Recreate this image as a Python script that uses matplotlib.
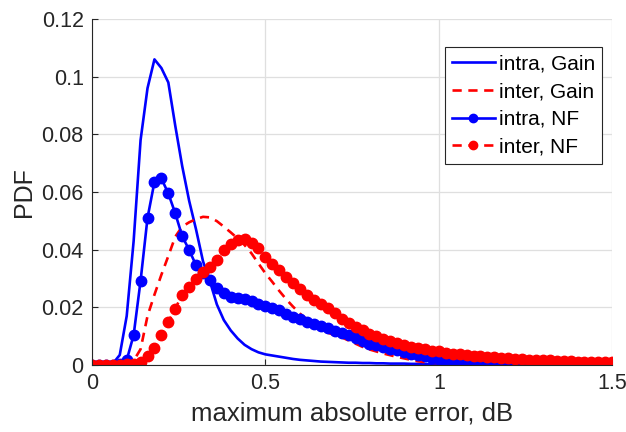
import numpy as np
import matplotlib.pyplot as plt

# error bins (dB), 0 to 1.5 step 0.02
x = np.round(np.arange(0, 1.5001, 0.02), 2)

intra_gain = [0, 0, 0, 0.0005, 0.0035, 0.017, 0.043, 0.078, 0.096, 0.106,
              0.103, 0.098, 0.083, 0.069, 0.057, 0.047, 0.036, 0.029, 0.021, 0.0156,
              0.012, 0.0092, 0.007, 0.0055, 0.0044, 0.0037, 0.0033, 0.0029, 0.0025, 0.0021,
              0.0018, 0.0016, 0.0014, 0.0012, 0.0011, 0.0010, 0.0009, 0.0008, 0.0008, 0.0007,
              0.0007, 0.0006, 0.0006, 0.0005, 0.0005, 0.0005, 0.0004, 0.0004, 0.0004, 0.0003,
              0.0003, 0.0003, 0.0003, 0.0003, 0.0003, 0.0003, 0.0002, 0.0002, 0.0002, 0.0002,
              0.0002, 0.0002, 0.0002, 0.0002, 0.0002, 0.0002, 0.0001, 0.0001, 0.0001, 0.0001,
              0.0001, 0.0001, 0.0001, 0.0001, 0.0001, 0.0001]

inter_gain = [0, 0, 0, 0, 0.0001, 0.0005, 0.0015, 0.0055, 0.017, 0.0244,
              0.0313, 0.0378, 0.0445, 0.048, 0.0495, 0.0506, 0.0514, 0.0512, 0.0499, 0.048,
              0.046, 0.0439, 0.0416, 0.0387, 0.0352, 0.0318, 0.0288, 0.0257, 0.0228, 0.0202,
              0.0178, 0.0158, 0.014, 0.0125, 0.0112, 0.0104, 0.0096, 0.0085, 0.0074, 0.0063,
              0.0054, 0.0047, 0.004, 0.0034, 0.0028, 0.0023, 0.0018, 0.0013, 0.001, 0.0008,
              0.0007, 0.0006, 0.0006, 0.0005, 0.0005, 0.0004, 0.0004, 0.0004, 0.0003, 0.0003,
              0.0003, 0.0003, 0.0002, 0.0002, 0.0002, 0.0002, 0.0002, 0.0002, 0.0001, 0.0001,
              0.0001, 0.0001, 0.0001, 0.0001, 0.0001, 0.0001]

intra_nf = [0, 0, 0, 0, 0.0003, 0.0017, 0.0104, 0.0292, 0.051, 0.0635,
            0.0647, 0.0595, 0.0526, 0.0447, 0.0399, 0.0346, 0.032, 0.0295, 0.0266, 0.025,
            0.0237, 0.0232, 0.0228, 0.0222, 0.0213, 0.0204, 0.0198, 0.019, 0.0178, 0.0168,
            0.0158, 0.015, 0.0142, 0.0134, 0.0127, 0.0119, 0.0111, 0.0104, 0.0094, 0.0083,
            0.0074, 0.0068, 0.0062, 0.0057, 0.0051, 0.0045, 0.004, 0.0035, 0.003, 0.0026,
            0.0022, 0.0019, 0.0016, 0.0014, 0.0012, 0.0011, 0.001, 0.0009, 0.0009, 0.0008,
            0.0008, 0.0007, 0.0007, 0.0007, 0.0006, 0.0006, 0.0006, 0.0005, 0.0005, 0.0005,
            0.0005, 0.0004, 0.0004, 0.0004, 0.0004, 0.0004]

inter_nf = [0, 0, 0, 0, 0, 0.0002, 0.0005, 0.001, 0.003, 0.0058,
            0.0104, 0.015, 0.0196, 0.0243, 0.0271, 0.0297, 0.0323, 0.034, 0.0366, 0.0399,
            0.042, 0.0433, 0.0436, 0.0424, 0.0405, 0.0375, 0.0352, 0.033, 0.0306, 0.0285,
            0.0262, 0.0243, 0.0225, 0.021, 0.0197, 0.018, 0.016, 0.0145, 0.0132, 0.012,
            0.0108, 0.01, 0.009, 0.0083, 0.0075, 0.0068, 0.0063, 0.0058, 0.0054, 0.005,
            0.0047, 0.0043, 0.004, 0.0037, 0.0035, 0.0033, 0.0031, 0.0029, 0.0027, 0.0025,
            0.0023, 0.0022, 0.0021, 0.0019, 0.0018, 0.0017, 0.0016, 0.0015, 0.0014, 0.0013,
            0.0012, 0.0012, 0.0011, 0.001, 0.001, 0.0009]

plt.rcParams['font.family'] = ['Liberation Sans', 'DejaVu Sans']
txt = '#262626'

fig = plt.figure(figsize=(6.26, 4.32), dpi=100)
ax = fig.add_axes([0.147, 0.155, 0.831, 0.801])

ax.plot(x, intra_gain, '-', color='#0000ff', lw=1.9, label='intra, Gain')
ax.plot(x, inter_gain, '--', color='#ff0000', lw=1.9, dashes=(3.5, 2.5), label='inter, Gain')
ax.plot(x, intra_nf, '-o', color='#0000ff', lw=1.9, ms=7.5, label='intra, NF')
ax.plot(x, inter_nf, '--o', color='#ff0000', lw=1.9, ms=7.5, dashes=(3.5, 2.5), label='inter, NF')

ax.set_xlim(0, 1.5)
ax.set_ylim(0, 0.12)
ax.set_xticks([0, 0.5, 1, 1.5])
ax.set_xticklabels(['0', '0.5', '1', '1.5'])
ax.set_yticks([0, 0.02, 0.04, 0.06, 0.08, 0.1, 0.12])
ax.set_yticklabels(['0', '0.02', '0.04', '0.06', '0.08', '0.1', '0.12'])
ax.grid(True, color='#dfdfdf', lw=0.9)
ax.set_axisbelow(True)
ax.spines['top'].set_visible(False)
ax.spines['right'].set_visible(False)
ax.spines['left'].set_color(txt)
ax.spines['bottom'].set_color(txt)
ax.tick_params(direction='in', length=4, labelsize=15.5, colors=txt, pad=6)

ax.set_xlabel('maximum absolute error, dB', fontsize=18.5, color=txt, labelpad=5)
ax.set_ylabel('PDF', fontsize=18, color=txt)

leg = ax.legend(loc='upper right', bbox_to_anchor=(0.981, 0.919), fontsize=15,
                fancybox=False, framealpha=1, edgecolor='#262626',
                handlelength=2.05, handletextpad=0.2, borderpad=0.35,
                labelspacing=0.42, markerscale=0.8, borderaxespad=0)
leg.get_frame().set_linewidth(0.8)

fig.savefig('out.png', dpi=100)
